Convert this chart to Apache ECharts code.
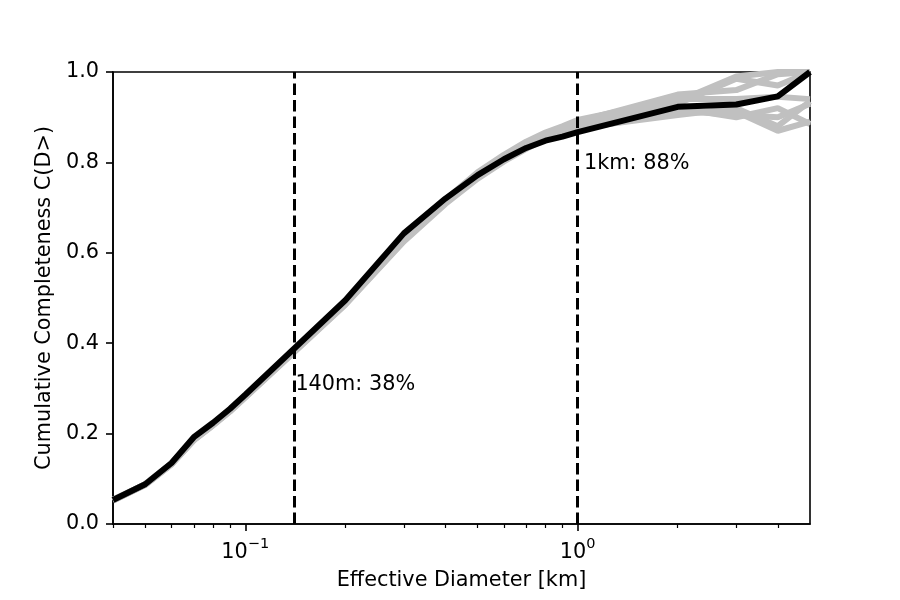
<!DOCTYPE html>
<html>
<head>
<meta charset="utf-8">
<script src="https://cdn.jsdelivr.net/npm/echarts@6/dist/echarts.min.js"></script>
<style>
  html, body { margin: 0; padding: 0; background: #fff; }
  #chart { width: 900px; height: 600px; }
</style>
</head>
<body>
<div id="chart"></div>
<script>
// diameters [km]
const diameters = [0.04, 0.05, 0.06, 0.07, 0.08, 0.09, 0.1, 0.2, 0.3, 0.4, 0.5, 0.6, 0.7, 0.8, 0.9, 1, 2, 3, 4, 5];
// mean completeness (black)
const meanCurve = [0.053, 0.088, 0.135, 0.192, 0.224, 0.255, 0.286, 0.495, 0.643, 0.720, 0.772, 0.807, 0.832, 0.848, 0.857, 0.867, 0.923, 0.928, 0.946, 1.0];
// individual runs (gray)
const runA = [0.052, 0.087, 0.133, 0.186, 0.219, 0.250, 0.281, 0.488, 0.632, 0.716, 0.776, 0.814, 0.843, 0.862, 0.873, 0.882, 0.930, 0.985, 0.970, 1.0];
const runB = [0.053, 0.088, 0.134, 0.188, 0.221, 0.252, 0.283, 0.490, 0.628, 0.712, 0.770, 0.810, 0.840, 0.864, 0.878, 0.890, 0.950, 0.960, 0.995, 1.0];
const runC = [0.052, 0.086, 0.132, 0.185, 0.218, 0.249, 0.280, 0.485, 0.625, 0.708, 0.764, 0.802, 0.830, 0.852, 0.864, 0.874, 0.910, 0.912, 0.870, 0.890];
const runD = [0.053, 0.087, 0.133, 0.187, 0.220, 0.251, 0.282, 0.487, 0.630, 0.714, 0.772, 0.812, 0.840, 0.859, 0.870, 0.880, 0.920, 0.900, 0.920, 0.885];
const runE = [0.054, 0.088, 0.134, 0.189, 0.222, 0.253, 0.284, 0.491, 0.634, 0.718, 0.778, 0.817, 0.846, 0.866, 0.880, 0.894, 0.940, 0.940, 0.945, 0.940];
const runF = [0.052, 0.087, 0.132, 0.186, 0.219, 0.250, 0.281, 0.486, 0.627, 0.710, 0.768, 0.808, 0.836, 0.856, 0.867, 0.876, 0.905, 0.920, 0.880, 0.935];
const runG = [0.053, 0.088, 0.134, 0.188, 0.221, 0.252, 0.283, 0.489, 0.631, 0.715, 0.774, 0.813, 0.842, 0.862, 0.874, 0.885, 0.935, 0.990, 1.0, 1.0];
const runH = [0.052, 0.087, 0.133, 0.187, 0.220, 0.251, 0.282, 0.488, 0.629, 0.712, 0.771, 0.811, 0.839, 0.860, 0.872, 0.882, 0.915, 0.905, 0.900, 0.930];
const runs = [runA, runB, runC, runD, runE, runF, runG, runH];

// reference diameters and their notes (text, x, y)
const refDiameters = [0.14, 1];
const notes = [['140m: 38%', 0.1415, 0.309], ['1km: 88%', 1.045, 0.797]];

const majorTicks = [0.1, 1];
const minorTicks = [0.04, 0.05, 0.06, 0.07, 0.08, 0.09, 0.2, 0.3, 0.4, 0.5, 0.6, 0.7, 0.8, 0.9, 2, 3, 4];
const yTicks = [0, 0.2, 0.4, 0.6, 0.8, 1.0];

const font = 'DejaVu Sans';
const fs = 20.8;
const myChart = echarts.init(document.getElementById('chart'));

const series = runs.map(r => ({
  type: 'line',
  data: diameters.map((d, i) => [d, r[i]]),
  symbol: 'none',
  lineStyle: { color: '#c0c0c0', width: 6 },
  silent: true,
  animation: false
}));

series.push({
  type: 'line',
  data: diameters.map((d, i) => [d, meanCurve[i]]),
  symbol: 'none',
  lineStyle: { color: '#000', width: 6 },
  z: 5,
  animation: false,
  markLine: {
    symbol: 'none',
    silent: true,
    animation: false,
    lineStyle: { color: '#000', type: [11.5, 5], width: 3 },
    label: { show: false },
    data: refDiameters.map(d => [{ coord: [d, 0] }, { coord: [d, 1] }])
  }
});

// text notes next to the dashed lines
series.push({
  type: 'scatter',
  data: notes.map(n => [n[1], n[2], n[0]]),
  symbolSize: 0,
  itemStyle: { opacity: 1 },
  z: 6,
  silent: true,
  animation: false,
  label: {
    show: true,
    position: 'right',
    distance: 0,
    formatter: p => p.data[2],
    color: '#000',
    opacity: 1,
    fontFamily: font,
    fontSize: fs
  }
});

const option = {
  animation: false,
  grid: {
    left: 113,
    right: 90,
    top: 72,
    bottom: 76,
    show: true,
    borderColor: '#000',
    borderWidth: 1.6
  },
  xAxis: [
    {
      type: 'log',
      logBase: 10,
      min: 0.04,
      max: 5,
      name: 'Effective Diameter [km]',
      nameLocation: 'middle',
      nameGap: 46,
      nameTextStyle: { color: '#000', fontFamily: font, fontSize: fs },
      axisLine: { lineStyle: { color: '#000', width: 1.6 } },
      axisTick: { inside: false, length: 7, customValues: majorTicks, lineStyle: { color: '#000', width: 1.6 } },
      axisLabel: {
        customValues: majorTicks,
        margin: 13,
        formatter: function (v) {
          if (Math.abs(v - 0.1) < 1e-6) return '{b|10}{s|\u22121}';
          if (Math.abs(v - 1) < 1e-6) return '{b|10}{s|0}';
          return '';
        },
        rich: {
          b: { fontSize: fs, fontFamily: font, color: '#000', lineHeight: 26, verticalAlign: 'bottom' },
          s: { fontSize: 14.5, fontFamily: font, color: '#000', lineHeight: 14, verticalAlign: 'top' }
        }
      },
      splitLine: { show: false }
    },
    {
      // minor ticks
      type: 'log',
      logBase: 10,
      min: 0.04,
      max: 5,
      position: 'bottom',
      axisLine: { show: false },
      axisTick: { inside: false, length: 4, customValues: minorTicks, lineStyle: { color: '#000', width: 1.2 } },
      axisLabel: { show: false },
      splitLine: { show: false }
    }
  ],
  yAxis: {
    type: 'value',
    min: 0,
    max: 1,
    interval: 0.2,
    name: 'Cumulative Completeness C(D>)',
    nameLocation: 'middle',
    nameGap: 58,
    nameTextStyle: { color: '#000', fontFamily: font, fontSize: fs },
    axisLine: { show: true, lineStyle: { color: '#000', width: 1.6 } },
    axisTick: { show: true, inside: false, length: 7, customValues: yTicks, lineStyle: { color: '#000', width: 1.6 } },
    axisLabel: {
      color: '#000',
      fontFamily: font,
      fontSize: fs,
      margin: 14,
      formatter: v => v.toFixed(1)
    },
    splitLine: { show: false }
  },
  series: series
};

myChart.setOption(option);
</script>
</body>
</html>
